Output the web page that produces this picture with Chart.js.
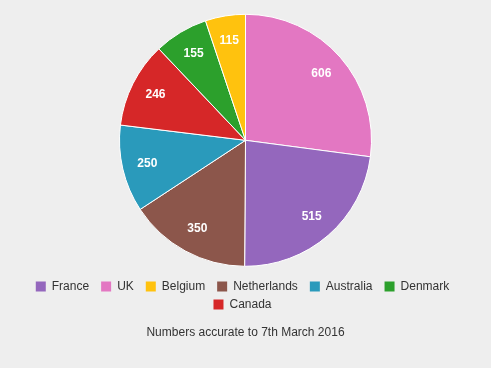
<!DOCTYPE html>
<html lang="en">
<head>
    <meta charset="UTF-8">
    <script src="https://cdn.jsdelivr.net/npm/chart.js"></script>
    <title>Pie</title>
    <style>
        body { margin: 0; background: #eeeeee; }
        #caixa { width: 491px; height: 368px; }
    </style>
</head>
<body>
<div id="caixa">
    <canvas id="graficoPizza" width="491" height="368"></canvas>
</div>
<script>
    // slices in drawing order (clockwise from the top)
    var paises = ["UK", "France", "Netherlands", "Australia", "Canada", "Denmark", "Belgium"]
    var quantidades = [606, 515, 350, 250, 246, 155, 115]
    var cores = ["#e377c2", "#9467bd", "#8c564b", "#2a9abb", "#d62728", "#2ca02c", "#ffc20e"]
    // order shown in the legend
    var ordemLegenda = ["France", "UK", "Belgium", "Netherlands", "Australia", "Denmark", "Canada"]
    var rodape = "Numbers accurate to 7th March 2016"

    // writes the value inside each slice
    var rotulos = {
        id: 'rotulos',
        afterDatasetsDraw(chart) {
            var ctx = chart.ctx
            var meta = chart.getDatasetMeta(0)
            ctx.save()
            ctx.fillStyle = 'white'
            ctx.font = 'bold 12px "Liberation Sans", Arial, sans-serif'
            ctx.textAlign = 'center'
            ctx.textBaseline = 'middle'
            meta.data.forEach(function (arco, i) {
                var p = arco.getProps(['x', 'y', 'startAngle', 'endAngle', 'outerRadius'], true)
                var meio = (p.startAngle + p.endAngle) / 2
                var r = p.outerRadius * 0.8
                ctx.fillText(quantidades[i], p.x + Math.cos(meio) * r, p.y + Math.sin(meio) * r)
            })
            ctx.restore()
        }
    }

    new Chart(graficoPizza, {
        type: 'pie',
        data: {
            labels: paises,
            datasets: [{
                data: quantidades,
                backgroundColor: cores,
                borderColor: 'white',
                borderWidth: 1,
                radius: 126
            }]
        },
        options: {
            responsive: false,
            animation: false,
            layout: { padding: { top: 6, bottom: 0 } },
            plugins: {
                tooltip: { enabled: false },
                legend: {
                    position: 'bottom',
                    labels: {
                        boxWidth: 10,
                        boxHeight: 10,
                        padding: 6,
                        color: '#333',
                        font: { family: '"Liberation Sans", Arial, sans-serif', size: 12 },
                        generateLabels(chart) {
                            var itens = Chart.overrides.pie.plugins.legend.labels.generateLabels(chart)
                            itens.forEach(function (it) {
                                it.text = it.text + '\u2002'
                                it.lineWidth = 0
                            })
                            return itens
                        },
                        sort(a, b) {
                            return ordemLegenda.indexOf(a.text.trim()) - ordemLegenda.indexOf(b.text.trim())
                        }
                    }
                },
                title: {
                    display: true,
                    position: 'bottom',
                    text: rodape,
                    color: '#333',
                    font: { family: '"Liberation Sans", Arial, sans-serif', size: 12, weight: 'normal' },
                    padding: { top: 5, bottom: 28 }
                }
            }
        },
        plugins: [rotulos]
    })
</script>
</body>
</html>
